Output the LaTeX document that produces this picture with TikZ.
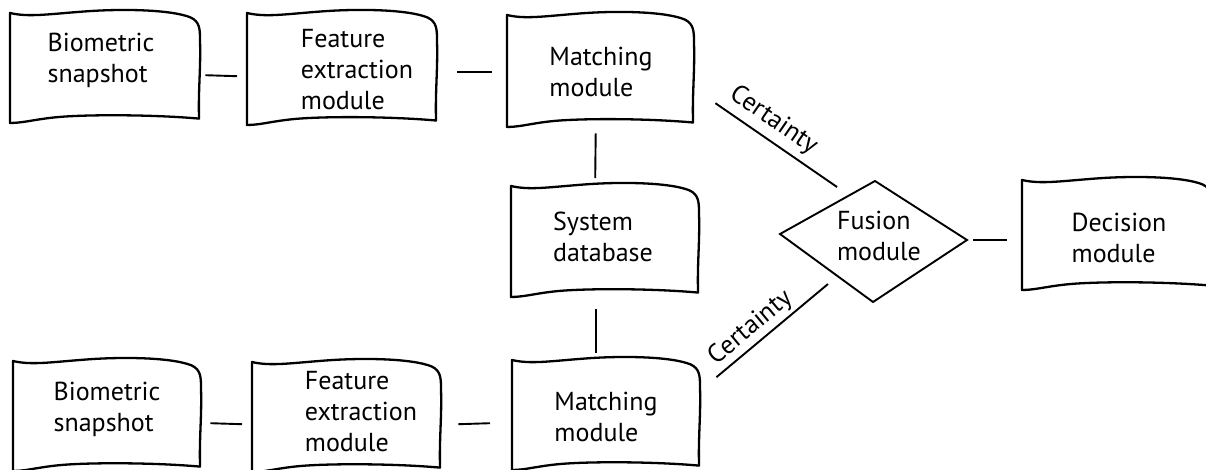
\documentclass[tikz,border=0pt]{standalone}
\usepackage{fontspec}
\setmainfont{PT Sans}
\usetikzlibrary{calc}

% hand-drawn looking outline around a placeholder node (#1), width #2, height #3
\newcommand\wavyframe[3]{%
  \draw[frame, shift={(#1.north west)}, x=#2pt, y=-#3pt]
    (0,0) .. controls (0.1,0.04) and (0.2,0.01) .. (0.4,-0.015)
          .. controls (0.6,-0.04) and (0.85,-0.03) .. (0.95,0.04)
          .. controls (1,0.08) and (1,0.15) .. (1,0.25)
          .. controls (1.005,0.5) and (0.99,0.7) .. (0.995,0.96)
          .. controls (0.8,0.93) and (0.5,0.92) .. (0.3,0.94)
          .. controls (0.15,0.955) and (0.08,1) .. (0,1) -- cycle;}

\begin{document}
\begin{tikzpicture}[x=1pt,y=-1pt,
  frame/.style={line width=2.3pt, line join=round},
  link/.style={line width=1.9pt},
  holder/.style={anchor=north west, inner sep=0pt, minimum width=190pt, minimum height=110pt},
  txt/.style={align=left, inner sep=0pt, font=\fontsize{26}{31}\selectfont},
  tag/.style={inner sep=3pt, font=\fontsize{26}{30}\selectfont}
]
\useasboundingbox (0,0) rectangle (1206,469);
\clip (0,0) rectangle (1206,469);

% upper chain
\node[holder, minimum width=190pt, minimum height=110pt] (s1) at (10,13) {};
\node[holder, minimum width=190pt, minimum height=112pt] (f1) at (247,13) {};
\node[holder, minimum width=187pt, minimum height=112pt] (m1) at (507,15) {};
% shared database
\node[holder, minimum width=188pt, minimum height=111pt] (db) at (511,186) {};
% lower chain
\node[holder, minimum width=188pt, minimum height=110pt] (s2) at (13,361) {};
\node[holder, minimum width=189pt, minimum height=110pt] (f2) at (252,362) {};
\node[holder, minimum width=188pt, minimum height=110pt] (m2) at (512,360) {};
% decision
\node[holder, minimum width=190pt, minimum height=110pt] (dec) at (1022,180) {};

\wavyframe{s1}{190}{110}
\wavyframe{f1}{190}{112}
\wavyframe{m1}{187}{112}
\wavyframe{db}{188}{111}
\wavyframe{s2}{188}{110}
\wavyframe{f2}{189}{110}
\wavyframe{m2}{188}{110}
\wavyframe{dec}{190}{110}

% texts
\node[txt] (s1t) at (101,60) {Biometric\\snapshot};
\node[txt] (f1t) at (357,70) {Feature\\extraction\\module};
\node[txt] (m1t) at (601,72) {Matching\\module};
\node[txt] (dbt) at (603,237) {System\\database};
\node[txt] (s2t) at (107,409) {Biometric\\snapshot};
\node[txt] (f2t) at (361,412) {Feature\\extraction\\module};
\node[txt] (m2t) at (606,417) {Matching\\module};
\node[txt] (dect) at (1119,238) {Decision\\module};

% fusion diamond
\coordinate (fw) at (780,234);
\coordinate (fn) at (875,181);
\coordinate (fe) at (967,240);
\coordinate (fs) at (873,302);
\draw[frame, line width=1.9pt, line join=miter] (fw) -- (fn) -- (fe) -- (fs) -- cycle;
\node[txt] (fus) at (879,236) {Fusion\\module};

% connectors
\draw[link] ([shift={(5,7)}]s1.east) -- ([shift={(-10,7)}]f1.west);
\draw[link] ([shift={(20,3)}]f1.east) -- ([shift={(-15,1)}]m1.west);
\draw[link] ([shift={(-5,6)}]m1.south) -- ([shift={(-10,-8)}]db.north);
\draw[link] ([shift={(-9,12)}]db.south) -- ([shift={(-10,-7)}]m2.north);
\draw[link] ([shift={(9,7)}]s2.east) -- ([shift={(-10,7)}]f2.west);
\draw[link] ([shift={(17,7)}]f2.east) -- ([shift={(-22,8)}]m2.west);
\draw[link] ([xshift=6pt]fe) -- ([xshift=-15pt]dec.west |- fe);

\draw[link] ([shift={(21,32)}]m1.east) -- node[tag, pos=0.39, above=3pt, sloped] {Certainty} ([shift={(57,-47)}]fw);
\draw[link] ([shift={(16,-38)}]m2.east) -- node[tag, pos=0.4, above, sloped] {Certainty} ([shift={(48,50)}]fw);
\end{tikzpicture}
\end{document}
